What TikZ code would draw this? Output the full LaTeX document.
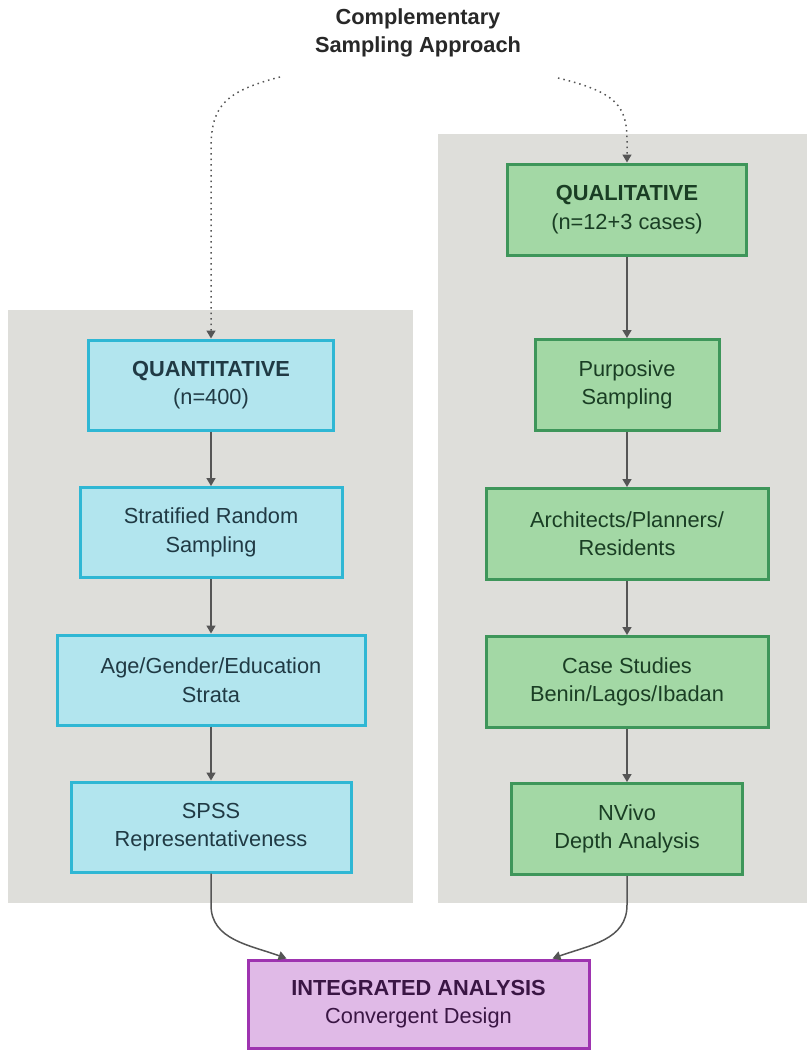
\documentclass[tikz,border=0pt]{standalone}
\usepackage{fontspec}
\setmainfont{Liberation Sans}
\usetikzlibrary{arrows.meta}
\definecolor{panelGray}{RGB}{222,222,218}
\definecolor{quantFill}{RGB}{178,229,238}
\definecolor{quantLine}{RGB}{47,183,212}
\definecolor{quantText}{RGB}{32,58,68}
\definecolor{qualFill}{RGB}{163,216,165}
\definecolor{qualLine}{RGB}{62,150,90}
\definecolor{qualText}{RGB}{26,62,36}
\definecolor{integFill}{RGB}{224,186,231}
\definecolor{integLine}{RGB}{158,52,176}
\definecolor{integText}{RGB}{58,22,68}
\definecolor{linkGray}{RGB}{85,85,85}
\begin{document}
\begin{tikzpicture}[x=0.5pt, y=-0.5pt,
    textStyle/.style={align=center, font=\fontsize{10.9}{14.2}\selectfont},
    quantStyle/.style={textStyle, rectangle, draw=quantLine, fill=quantFill, text=quantText, line width=1.5pt, minimum height=45pt},
    qualStyle/.style={textStyle, rectangle, draw=qualLine, fill=qualFill, text=qualText, line width=1.5pt, minimum height=45.5pt},
    integStyle/.style={textStyle, rectangle, draw=integLine, fill=integFill, text=integText, line width=1.5pt, minimum width=170.5pt, minimum height=44pt},
    linkStyle/.style={draw=linkGray, line width=0.75pt, -{Triangle[width=4.5pt,length=4pt]}},
    splitStyle/.style={linkStyle, dotted}]
    \useasboundingbox (0,0) rectangle (807,1050);

    \fill[panelGray] (8,310) rectangle (413,903);
    \fill[panelGray] (438,134) rectangle (807,903);

    \node[textStyle, text={rgb,255:red,40;green,40;blue,40}] (title) at (418, 33) {\textbf{Complementary}\\\textbf{Sampling Approach}};

    \node[quantStyle, minimum width=122.5pt] (quant_0) at (211, 385)   {\textbf{QUANTITATIVE}\\(n=400)};
    \node[quantStyle, minimum width=131pt]   (quant_1) at (211, 532.5) {Stratified Random\\Sampling};
    \node[quantStyle, minimum width=154pt]   (quant_2) at (211, 680)   {Age/Gender/Education\\Strata};
    \node[quantStyle, minimum width=140pt]   (quant_3) at (211, 827)   {SPSS\\Representativeness};

    \node[qualStyle, minimum width=119.5pt] (qual_0) at (627, 209.5) {\textbf{QUALITATIVE}\\(n=12+3 cases)};
    \node[qualStyle, minimum width=92pt]    (qual_1) at (627, 385)   {Purposive\\Sampling};
    \node[qualStyle, minimum width=141pt]   (qual_2) at (627, 534)   {Architects/Planners/\\Residents};
    \node[qualStyle, minimum width=141pt]   (qual_3) at (627, 682)   {Case Studies\\Benin/Lagos/Ibadan};
    \node[qualStyle, minimum width=115.5pt] (qual_4) at (627, 829)   {NVivo\\Depth Analysis};

    \node[integStyle] (integ) at (418.5, 1004) {\textbf{INTEGRATED ANALYSIS}\\Convergent Design};

    \coordinate (split_l) at (280, 77);
    \coordinate (split_r) at (558, 78);

    \draw[splitStyle] (split_l) .. controls (222, 92) and (211, 108) .. (211, 150) -- (quant_0.north);
    \draw[splitStyle] (split_r) .. controls (616, 92) and (627, 106) .. (627, 140) -- (qual_0.north);

    \draw[linkStyle] (quant_0.south) -- (quant_1.north);
    \draw[linkStyle] (quant_1.south) -- (quant_2.north);
    \draw[linkStyle] (quant_2.south) -- (quant_3.north);

    \draw[linkStyle] (qual_0.south) -- (qual_1.north);
    \draw[linkStyle] (qual_1.south) -- (qual_2.north);
    \draw[linkStyle] (qual_2.south) -- (qual_3.north);
    \draw[linkStyle] (qual_3.south) -- (qual_4.north);

    \draw[linkStyle] (quant_3.south) -- (211, 905) .. controls (211, 940) and (250, 945) .. ([xshift=-66pt]integ.north);
    \draw[linkStyle] (qual_4.south) -- (627, 905) .. controls (627, 940) and (590, 945) .. ([xshift=67pt]integ.north);
\end{tikzpicture}
\end{document}
